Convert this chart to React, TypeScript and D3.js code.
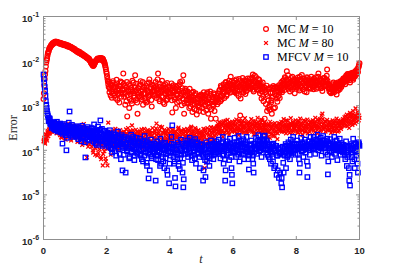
import React from 'react';
import * as d3 from 'd3';

const mc10Log = [
  -2.85, -2.55, -2.30, -2.12, -1.98, -1.88, -1.80, -1.74, -1.70, -1.67, -1.64, -1.62, -1.61, -1.59, -1.58, -1.58, -1.57, -1.58, -1.58, -1.59,
  -1.60, -1.59, -1.61, -1.61, -1.62, -1.62, -1.63, -1.64, -1.63, -1.65, -1.66, -1.66, -1.67, -1.68, -1.68, -1.70, -1.70, -1.71, -1.73, -1.74,
  -1.75, -1.77, -1.77, -1.79, -1.80, -1.80, -1.82, -1.83, -1.84, -1.85, -1.86, -1.88, -1.88, -1.90, -1.91, -1.93, -1.94, -1.95, -1.97, -1.99,
  -2.03, -2.06, -2.09, -2.11, -2.08, -2.04, -2.00, -1.98, -1.96, -1.95, -1.97, -1.94, -1.96, -1.93, -1.98, -1.95, -1.99, -2.03, -2.10, -2.18,
  -2.28, -2.40, -2.52, -2.47, -2.62, -2.77, -2.55, -2.68, -2.45, -2.72, -2.60, -2.83, -2.58, -2.50, -2.74, -2.66, -2.93, -2.57, -2.70, -2.48,
  -2.62, -2.28, -2.80, -2.55, -2.71, -2.90, -3.24, -2.66, -2.52, -2.85, -2.74, -2.60, -2.95, -2.68, -2.48, -2.78, -2.32, -2.87, -2.64, -3.18,
  -2.70, -2.56, -2.82, -2.45, -2.76, -2.63, -2.98, -2.58, -2.72, -2.88, -2.93, -2.50, -2.67, -2.80, -2.41, -2.74, -2.62, -3.02, -2.69, -2.55,
  -2.78, -2.60, -2.47, -2.83, -2.66, -2.28, -2.72, -2.90, -2.57, -2.69, -2.44, -2.81, -2.63, -2.96, -2.52, -2.75, -2.68, -2.85, -2.59, -2.73,
  -2.64, -2.79, -2.50, -3.15, -2.70, -2.58, -2.86, -2.62, -2.75, -2.93, -2.55, -2.68, -2.82, -2.47, -2.73, -2.99, -2.61, -2.32, -3.18, -2.77,
  -2.66, -2.88, -2.74, -2.95, -2.81, -2.62, -3.02, -2.86, -2.71, -2.97, -2.83, -3.08, -2.76, -2.92, -3.20, -2.85, -2.99, -3.12, -2.80, -2.94,
  -2.77, -3.05, -2.90, -2.70, -2.98, -2.84, -3.10, -2.73, -2.95, -2.86, -3.03, -2.68, -3.29, -2.91, -2.80, -3.00, -2.75, -2.93, -3.29, -2.82,
  -2.97, -2.72, -2.85, -2.64, -2.90, -2.58, -2.78, -2.69, -2.52, -2.83, -2.61, -2.47, -2.75, -2.56, -2.66, -2.44, -2.71, -2.35, -2.60, -2.53,
  -2.62, -2.48, -2.70, -2.55, -2.41, -2.66, -2.52, -2.78, -2.45, -3.22, -2.58, -2.64, -2.38, -2.71, -2.50, -2.60, -2.44, -2.67, -2.54, -2.47,
  -2.57, -2.39, -2.62, -2.46, -2.53, -2.30, -2.68, -2.44, -2.58, -2.36, -2.63, -2.49, -2.55, -2.42, -2.72, -2.50, -2.84, -2.62, -2.78, -2.58,
  -3.29, -2.70, -2.74, -3.12, -2.62, -2.88, -3.00, -2.59, -2.93, -3.18, -2.71, -2.56, -2.62, -3.04, -2.77, -2.58, -2.91, -2.66, -2.54, -2.83,
  -2.60, -2.48, -2.70, -2.52, -2.43, -2.65, -2.38, -2.56, -2.23, -2.50, -2.62, -2.41, -2.68, -2.47, -2.55, -2.35, -2.59, -2.45, -2.72, -2.51,
  -2.44, -2.60, -2.37, -2.53, -2.66, -2.42, -2.57, -2.31, -2.49, -2.63, -2.40, -2.55, -2.46, -2.70, -2.38, -2.52, -2.44, -2.61, -2.48, -2.35,
  -2.56, -2.42, -2.63, -2.47, -2.52, -2.36, -2.58, -2.45, -2.28, -2.54, -2.40, -2.61, -2.49, -2.67, -2.44, -2.57, -2.38, -2.53, -2.47, -2.19,
  -2.50, -2.62, -2.68, -2.55, -2.72, -2.58, -2.64, -2.48, -2.70, -2.60, -2.53, -2.75, -2.57, -2.66, -2.51, -2.63, -2.45, -2.58, -2.49, -2.42,
  -2.46, -2.38, -2.52, -2.33, -2.44, -2.29, -2.40, -2.35, -2.48, -2.31, -2.37, -2.26, -2.42, -2.30, -2.34, -2.22, -2.28, -2.18, -2.24, -2.12,
  -2.05,
];
// same series, read at t = 0.0125, 0.0375, ..., 9.9875
const mc10LogMid = [
  -2.72, -2.40, -2.22, -2.03, -1.94, -1.83, -1.78, -1.71, -1.69, -1.65, -1.64, -1.60, -1.61, -1.58, -1.58, -1.56, -1.58, -1.57, -1.59, -1.59,
  -1.61, -1.60, -1.60, -1.63, -1.61, -1.64, -1.62, -1.65, -1.64, -1.64, -1.67, -1.65, -1.68, -1.67, -1.69, -1.69, -1.72, -1.71, -1.74, -1.73,
  -1.76, -1.76, -1.79, -1.78, -1.81, -1.79, -1.83, -1.82, -1.85, -1.84, -1.87, -1.87, -1.89, -1.89, -1.92, -1.92, -1.95, -1.94, -1.98, -2.01,
  -2.05, -2.07, -2.10, -2.10, -2.06, -2.02, -1.99, -1.97, -1.94, -1.96, -1.95, -1.93, -1.95, -1.96, -1.94, -1.97, -2.01, -2.06, -2.14, -2.24,
  -2.34, -2.46, -2.58, -2.70, -2.51, -2.64, -2.82, -2.49, -2.59, -2.77, -2.53, -2.69, -2.42, -2.87, -2.61, -2.55, -2.73, -2.46, -2.80, -2.65,
  -2.74, -2.51, -2.63, -2.98, -2.58, -2.47, -2.77, -2.69, -3.05, -2.56, -2.64, -2.89, -2.44, -2.72, -2.82, -2.59, -2.67, -2.51, -2.93, -2.76,
  -2.61, -2.79, -2.52, -2.68, -2.86, -2.47, -2.73, -2.60, -2.84, -2.65, -2.56, -2.91, -2.70, -2.48, -2.77, -2.58, -2.87, -2.53, -2.75, -2.64,
  -2.67, -2.54, -2.76, -2.62, -2.41, -2.70, -2.85, -2.51, -2.64, -2.79, -2.58, -2.93, -2.55, -2.72, -2.60, -2.88, -2.49, -2.71, -2.80, -2.57,
  -2.72, -2.60, -2.88, -2.66, -2.54, -2.81, -2.69, -3.05, -2.58, -2.76, -2.63, -2.90, -2.52, -2.79, -2.67, -2.45, -2.84, -2.70, -2.95, -2.62,
  -2.79, -2.93, -2.68, -2.86, -3.05, -2.74, -2.91, -2.80, -3.14, -2.69, -2.88, -2.96, -2.72, -3.10, -2.84, -2.93, -2.78, -3.04, -2.87, -2.75,
  -2.92, -2.81, -3.14, -2.87, -2.76, -3.01, -2.89, -2.70, -3.18, -2.83, -2.95, -2.74, -3.08, -2.86, -2.97, -2.72, -3.12, -2.85, -2.90, -2.78,
  -2.83, -2.92, -2.67, -2.79, -2.55, -2.86, -2.63, -2.74, -2.60, -2.70, -2.48, -2.78, -2.58, -2.67, -2.50, -2.62, -2.55, -2.69, -2.45, -2.58,
  -2.55, -2.68, -2.44, -2.61, -2.73, -2.49, -2.58, -2.40, -2.65, -2.84, -2.52, -2.46, -2.69, -2.56, -2.43, -2.74, -2.51, -2.59, -2.39, -2.62,
  -2.48, -2.60, -2.41, -2.55, -2.37, -2.64, -2.50, -2.33, -2.59, -2.47, -2.54, -2.40, -2.66, -2.52, -2.63, -2.56, -2.68, -2.48, -2.90, -2.60,
  -2.65, -2.96, -2.55, -2.78, -3.05, -2.62, -3.09, -2.72, -2.88, -2.60, -2.80, -3.06, -2.74, -2.58, -2.69, -2.84, -2.61, -2.78, -2.70, -2.63,
  -2.55, -2.66, -2.45, -2.61, -2.50, -2.36, -2.58, -2.42, -2.53, -2.32, -2.57, -2.49, -2.60, -2.38, -2.64, -2.46, -2.52, -2.41, -2.58, -2.47,
  -2.54, -2.41, -2.50, -2.62, -2.35, -2.56, -2.45, -2.60, -2.39, -2.51, -2.68, -2.43, -2.57, -2.36, -2.49, -2.59, -2.40, -2.53, -2.62, -2.46,
  -2.50, -2.58, -2.39, -2.55, -2.44, -2.62, -2.48, -2.35, -2.52, -2.43, -2.57, -2.45, -2.60, -2.50, -2.38, -2.54, -2.46, -2.41, -2.33, -2.44,
  -2.58, -2.55, -2.61, -2.70, -2.63, -2.52, -2.69, -2.57, -2.62, -2.51, -2.66, -2.59, -2.48, -2.61, -2.55, -2.47, -2.56, -2.44, -2.52, -2.39,
  -2.42, -2.47, -2.36, -2.41, -2.30, -2.38, -2.32, -2.43, -2.28, -2.36, -2.33, -2.39, -2.27, -2.35, -2.24, -2.31, -2.21, -2.26, -2.15, -2.09,
];

const mc80Log = [
  -3.80, -3.72, -3.85, -3.66, -3.74, -3.60, -3.68, -3.55, -3.62, -3.50, -3.58, -3.46, -3.40, -3.52, -3.44, -3.56, -3.48, -3.38, -3.54, -3.60,
  -3.50, -3.66, -3.45, -3.72, -3.58, -3.42, -3.64, -3.53, -3.76, -3.48, -3.61, -3.40, -3.69, -3.55, -3.47, -3.78, -3.57, -3.44, -3.63, -3.52,
  -3.70, -3.56, -3.45, -3.81, -3.60, -3.52, -3.74, -3.63, -3.49, -3.88, -3.58, -3.41, -3.67, -3.55, -3.79, -4.16, -3.62, -3.50, -3.86, -3.71,
  -3.64, -3.92, -3.75, -4.05, -3.58, -3.83, -3.96, -3.70, -4.12, -3.85, -3.62, -3.98, -3.77, -4.20, -3.88, -4.34, -3.72, -4.02, -3.90, -4.25,
  -3.80, -4.34, -3.38, -3.95, -3.68, -4.10, -3.75, -3.58, -3.88, -3.66, -3.93, -3.52, -3.79, -3.71, -3.98, -3.62, -3.85, -3.55, -3.74, -3.90,
  -3.66, -3.82, -3.58, -3.77, -3.95, -3.62, -3.73, -3.50, -3.86, -3.69, -3.57, -3.80, -3.44, -3.72, -3.91, -3.63, -3.78, -3.54, -3.84, -3.67,
  -3.75, -3.60, -3.88, -3.66, -3.53, -3.81, -3.70, -3.94, -3.59, -3.76, -3.64, -3.85, -3.55, -3.72, -3.90, -3.61, -3.79, -3.68, -3.50, -3.83,
  -3.71, -3.57, -3.86, -3.40, -3.74, -3.63, -3.92, -3.55, -3.80, -3.67, -3.48, -3.77, -3.62, -3.89, -3.58, -3.73, -3.66, -3.84, -3.52, -3.70,
  -3.78, -3.60, -3.69, -3.87, -3.55, -3.74, -3.63, -3.95, -3.58, -3.71, -3.82, -3.49, -3.66, -3.79, -3.57, -3.90, -3.64, -3.75, -3.53, -3.70,
  -3.59, -3.77, -3.52, -3.68, -3.85, -3.56, -3.72, -3.47, -3.64, -3.80, -3.58, -3.69, -3.50, -3.76, -3.61, -3.88, -3.55, -3.71, -3.63, -3.82,
  -3.70, -3.58, -3.84, -3.66, -4.40, -3.53, -4.28, -3.75, -3.61, -3.92, -3.57, -3.69, -3.48, -3.80, -3.62, -3.73, -3.51, -3.67, -3.86, -3.55,
  -3.52, -3.41, -3.63, -3.46, -3.38, -3.57, -3.44, -3.70, -3.35, -3.50, -3.60, -3.42, -3.55, -3.32, -3.48, -3.65, -3.40, -3.53, -3.45, -3.36,
  -3.50, -3.38, -3.58, -3.43, -3.31, -3.55, -3.47, -3.66, -3.36, -3.52, -3.41, -3.60, -3.34, -3.49, -3.44, -3.28, -3.56, -3.40, -3.62, -3.46,
  -3.37, -3.53, -3.45, -3.30, -3.58, -3.42, -3.65, -3.48, -3.35, -3.55, -3.40, -3.27, -3.51, -3.44, -3.60, -3.38, -3.50, -3.33, -3.57, -3.43,
  -3.48, -3.62, -3.40, -3.55, -3.70, -3.46, -3.58, -3.36, -3.64, -3.50, -3.43, -3.68, -3.52, -3.39, -3.60, -3.47, -3.75, -3.54, -3.42, -3.57,
  -3.49, -3.36, -3.58, -3.44, -3.30, -3.53, -3.41, -3.62, -3.47, -3.34, -3.56, -3.43, -3.50, -3.28, -3.45, -3.60, -3.38, -3.52, -3.46, -3.33,
  -3.55, -3.42, -3.61, -3.37, -3.48, -3.29, -3.53, -3.44, -3.66, -3.40, -3.51, -3.35, -3.57, -3.46, -3.31, -3.49, -3.43, -3.59, -3.38, -3.52,
  -3.45, -3.33, -3.56, -3.40, -3.27, -3.50, -3.43, -3.62, -3.36, -3.47, -3.30, -3.54, -3.22, -3.18, -3.41, -3.49, -3.35, -3.58, -3.44, -3.32,
  -3.48, -3.37, -3.55, -3.42, -3.61, -3.46, -3.33, -3.52, -3.40, -3.58, -3.44, -3.29, -3.50, -3.39, -3.56, -3.45, -3.34, -3.48, -3.41, -3.30,
  -3.38, -3.26, -3.45, -3.31, -3.20, -3.40, -3.28, -3.50, -3.16, -3.35, -3.24, -3.43, -3.12, -3.30, -3.22, -3.06, -3.36, -3.25, -3.18, -3.33,
  -3.27,
];
const mc80LogMid = [
  -3.76, -3.82, -3.70, -3.64, -3.78, -3.57, -3.63, -3.52, -3.59, -3.47, -3.55, -3.43, -3.50, -3.41, -3.58, -3.45, -3.62, -3.49, -3.57, -3.44,
  -3.62, -3.54, -3.70, -3.49, -3.66, -3.57, -3.46, -3.73, -3.51, -3.60, -3.68, -3.43, -3.59, -3.50, -3.74, -3.62, -3.48, -3.56, -3.71, -3.60,
  -3.58, -3.66, -3.51, -3.72, -3.55, -3.64, -3.80, -3.57, -3.69, -3.47, -3.75, -3.62, -3.53, -3.84, -3.66, -3.58, -3.92, -3.70, -3.61, -3.78,
  -3.82, -3.71, -4.00, -3.86, -3.68, -4.10, -3.79, -3.92, -3.74, -4.06, -3.83, -3.70, -4.15, -3.90, -3.81, -4.08, -3.95, -3.76, -4.18, -3.86,
  -3.72, -3.96, -3.64, -3.84, -3.59, -3.78, -3.92, -3.68, -3.81, -3.55, -3.76, -3.88, -3.63, -3.85, -3.70, -3.57, -3.93, -3.69, -3.82, -3.61,
  -3.75, -3.60, -3.88, -3.68, -3.53, -3.81, -3.65, -3.92, -3.58, -3.74, -3.85, -3.61, -3.70, -3.55, -3.79, -3.87, -3.64, -3.73, -3.59, -3.80,
  -3.63, -3.79, -3.57, -3.72, -3.85, -3.61, -3.77, -3.52, -3.83, -3.66, -3.74, -3.58, -3.90, -3.65, -3.56, -3.81, -3.69, -3.60, -3.87, -3.73,
  -3.62, -3.78, -3.51, -3.66, -3.82, -3.58, -3.71, -3.47, -3.68, -3.86, -3.60, -3.73, -3.55, -3.79, -3.64, -3.90, -3.57, -3.75, -3.62, -3.81,
  -3.66, -3.73, -3.54, -3.80, -3.62, -3.91, -3.58, -3.71, -3.65, -3.84, -3.52, -3.76, -3.60, -3.69, -3.83, -3.56, -3.74, -3.62, -3.88, -3.58,
  -3.70, -3.62, -3.81, -3.55, -3.74, -3.63, -3.50, -3.79, -3.58, -3.70, -3.65, -3.86, -3.53, -3.68, -3.75, -3.57, -3.80, -3.60, -3.74, -3.66,
  -3.62, -3.77, -3.52, -3.71, -3.59, -3.85, -3.64, -3.50, -3.78, -3.66, -3.55, -3.82, -3.60, -3.70, -3.57, -3.49, -3.76, -3.58, -3.64, -3.47,
  -3.45, -3.58, -3.37, -3.52, -3.61, -3.43, -3.55, -3.39, -3.62, -3.46, -3.34, -3.57, -3.48, -3.42, -3.60, -3.37, -3.51, -3.44, -3.58, -3.41,
  -3.44, -3.56, -3.35, -3.49, -3.61, -3.40, -3.52, -3.33, -3.57, -3.45, -3.38, -3.54, -3.47, -3.60, -3.36, -3.50, -3.42, -3.58, -3.39, -3.53,
  -3.48, -3.39, -3.56, -3.43, -3.51, -3.35, -3.59, -3.45, -3.40, -3.62, -3.47, -3.36, -3.55, -3.42, -3.50, -3.31, -3.57, -3.44, -3.49, -3.38,
  -3.55, -3.45, -3.66, -3.49, -3.59, -3.42, -3.72, -3.51, -3.45, -3.63, -3.56, -3.41, -3.67, -3.48, -3.57, -3.44, -3.62, -3.50, -3.39, -3.53,
  -3.41, -3.54, -3.47, -3.37, -3.58, -3.45, -3.51, -3.33, -3.55, -3.42, -3.48, -3.61, -3.39, -3.54, -3.44, -3.36, -3.57, -3.43, -3.50, -3.40,
  -3.46, -3.58, -3.34, -3.52, -3.43, -3.60, -3.39, -3.55, -3.47, -3.33, -3.58, -3.44, -3.50, -3.38, -3.62, -3.41, -3.54, -3.46, -3.35, -3.49,
  -3.38, -3.51, -3.44, -3.59, -3.35, -3.46, -3.55, -3.31, -3.49, -3.42, -3.57, -3.38, -3.47, -3.30, -3.53, -3.40, -3.50, -3.36, -3.46, -3.55,
  -3.42, -3.53, -3.36, -3.49, -3.44, -3.57, -3.38, -3.47, -3.55, -3.35, -3.50, -3.42, -3.58, -3.33, -3.46, -3.39, -3.52, -3.37, -3.44, -3.35,
  -3.32, -3.41, -3.24, -3.37, -3.46, -3.29, -3.35, -3.21, -3.42, -3.28, -3.38, -3.19, -3.34, -3.26, -3.40, -3.23, -3.30, -3.14, -3.28, -3.22,
];

const mfcvLog = [
  -2.30, -2.48, -2.66, -2.90, -3.05, -3.18, -3.26, -3.33, -3.30, -3.42, -3.38, -3.47, -3.44, -3.52, -3.40, -3.55, -3.48, -3.36, -3.58, -3.46,
  -3.52, -3.40, -3.60, -3.48, -3.85, -3.44, -3.57, -3.50, -3.66, -4.00, -3.47, -3.55, -3.38, -3.13, -3.62, -3.51, -3.43, -3.70, -3.49, -3.58,
  -3.54, -3.68, -3.46, -3.62, -3.75, -3.50, -3.66, -3.58, -3.80, -3.45, -3.63, -3.72, -3.52, -4.16, -3.60, -3.70, -3.48, -3.65, -3.78, -3.56,
  -3.62, -3.50, -3.74, -3.58, -3.42, -3.69, -3.85, -3.55, -3.66, -3.47, -3.77, -3.60, -3.33, -3.71, -3.52, -3.90, -3.64, -3.56, -3.80, -3.68,
  -3.72, -3.60, -3.88, -3.75, -3.55, -3.95, -3.68, -4.05, -3.78, -3.62, -3.90, -3.70, -4.12, -3.82, -3.58, -3.98, -3.74, -3.86, -4.20, -3.66,
  -4.45, -3.80, -3.95, -3.70, -4.50, -3.88, -4.02, -3.75, -3.92, -4.15, -3.82, -3.65, -4.05, -3.90, -3.78, -4.22, -3.85, -3.98, -3.72, -4.08,
  -3.86, -4.00, -3.74, -4.12, -3.90, -3.80, -4.25, -3.95, -3.68, -4.05, -3.88, -4.35, -3.82, -4.63, -3.98, -4.10, -3.76, -4.18, -3.92, -4.02,
  -3.85, -3.98, -4.68, -4.10, -3.80, -4.22, -3.92, -4.05, -3.74, -4.30, -3.88, -4.15, -3.96, -4.40, -3.83, -4.08, -3.90, -4.55, -4.02, -4.74,
  -3.95, -4.12, -3.70, -3.44, -4.05, -3.88, -4.25, -4.81, -3.98, -4.10, -3.82, -4.35, -3.92, -4.18, -3.76, -4.02, -4.50, -4.83, -3.90, -4.08,
  -3.85, -4.00, -3.78, -4.15, -3.92, -3.72, -4.05, -3.88, -4.22, -3.80, -3.95, -4.10, -3.75, -4.30, -3.90, -3.82, -4.08, -3.96, -4.40, -3.86,
  -4.02, -3.88, -4.68, -4.15, -3.95, -4.60, -3.82, -4.25, -4.05, -3.90, -4.35, -3.98, -3.78, -4.12, -3.92, -4.20, -3.85, -4.08, -3.96, -3.80,
  -3.90, -4.05, -3.76, -3.98, -4.18, -3.84, -4.02, -3.70, -4.30, -3.92, -4.68, -3.86, -4.10, -3.80, -3.95, -4.22, -3.74, -4.00, -4.40, -4.74,
  -3.88, -4.05, -3.72, -3.96, -4.15, -3.82, -4.00, -3.68, -4.25, -3.90, -3.78, -4.08, -3.94, -3.75, -4.20, -3.86, -4.02, -3.70, -3.98, -4.12,
  -4.43, -3.90, -4.05, -3.78, -3.95, -4.12, -4.50, -3.85, -3.98, -3.72, -4.08, -3.88, -3.66, -4.02, -3.80, -3.94, -4.15, -3.76, -3.90, -3.68,
  -3.67, -3.90, -4.05, -3.82, -3.98, -4.15, -3.88, -4.02, -4.30, -3.92, -4.08, -3.85, -4.40, -4.00, -3.90, -4.55, -4.12, -3.95, -4.62, -4.05,
  -3.95, -4.74, -4.83, -4.10, -4.50, -3.92, -4.05, -4.40, -3.90, -4.12, -3.82, -3.98, -4.20, -3.76, -4.05, -3.88, -3.70, -4.00, -3.85, -4.10,
  -3.92, -3.78, -4.08, -3.86, -4.50, -3.95, -3.72, -4.02, -3.84, -4.15, -3.90, -3.76, -4.05, -3.88, -4.60, -3.96, -3.80, -4.10, -3.70, -3.92,
  -3.82, -3.98, -3.70, -3.90, -4.08, -3.76, -3.88, -3.65, -4.00, -3.80, -3.94, -3.72, -4.12, -3.85, -3.68, -3.96, -3.78, -4.05, -3.86, -3.74,
  -4.54, -3.88, -4.02, -3.75, -3.95, -4.15, -3.82, -4.00, -3.70, -4.08, -3.90, -3.78, -4.22, -3.86, -3.96, -3.74, -4.10, -3.84, -3.92, -4.05,
  -3.88, -4.02, -4.20, -3.80, -4.35, -3.95, -4.10, -4.68, -4.79, -3.90, -4.05, -4.25, -3.74, -4.00, -4.40, -3.85, -4.12, -3.92, -4.50, -3.82,
  -3.90,
];
const mfcvLogMid = [
  -2.40, -2.58, -2.78, -2.98, -3.12, -3.22, -3.35, -3.28, -3.40, -3.36, -3.50, -3.42, -3.48, -3.38, -3.53, -3.45, -3.41, -3.56, -3.50, -3.43,
  -3.47, -3.58, -3.44, -3.53, -3.63, -3.49, -3.41, -3.60, -3.54, -3.72, -3.45, -3.58, -3.50, -3.46, -3.67, -3.55, -3.60, -3.48, -3.64, -3.52,
  -3.60, -3.52, -3.70, -3.57, -3.48, -3.66, -3.55, -3.74, -3.61, -3.50, -3.69, -3.58, -3.82, -3.63, -3.55, -3.76, -3.62, -3.52, -3.71, -3.64,
  -3.70, -3.58, -3.66, -3.81, -3.55, -3.73, -3.62, -3.88, -3.59, -3.74, -3.65, -3.54, -3.78, -3.63, -3.86, -3.69, -3.57, -3.75, -3.66, -3.84,
  -3.80, -3.68, -3.92, -3.63, -3.85, -3.74, -3.98, -3.70, -3.86, -3.76, -4.02, -3.65, -3.88, -3.79, -3.94, -3.72, -4.08, -3.81, -3.70, -3.92,
  -3.86, -4.10, -3.76, -3.92, -3.84, -4.00, -3.73, -3.96, -4.18, -3.87, -3.78, -4.03, -3.91, -3.70, -3.98, -4.12, -3.82, -3.94, -4.05, -3.80,
  -3.94, -3.84, -4.08, -3.89, -4.20, -3.85, -3.98, -4.12, -3.80, -4.02, -4.28, -3.92, -4.06, -3.86, -4.45, -3.94, -4.14, -3.88, -4.04, -3.96,
  -4.05, -3.90, -4.20, -3.95, -4.12, -3.87, -4.02, -4.35, -3.93, -4.08, -3.98, -4.25, -3.86, -4.00, -4.18, -3.92, -4.45, -4.06, -3.95, -4.30,
  -4.04, -3.92, -3.85, -3.98, -4.15, -4.30, -4.62, -4.05, -3.92, -4.20, -3.88, -4.08, -4.42, -3.96, -4.10, -3.86, -4.28, -4.65, -4.00, -3.94,
  -3.98, -3.84, -4.08, -3.90, -4.05, -3.86, -3.95, -4.12, -3.84, -4.02, -3.89, -4.18, -3.94, -3.85, -4.06, -3.92, -3.99, -4.15, -3.88, -3.98,
  -3.94, -4.10, -4.45, -3.98, -4.22, -4.08, -3.92, -4.14, -3.88, -4.02, -4.18, -3.90, -4.05, -3.86, -4.00, -4.10, -3.94, -3.88, -4.04, -3.92,
  -3.96, -3.86, -4.08, -3.90, -4.02, -3.95, -3.82, -4.12, -3.98, -4.20, -4.45, -3.94, -4.00, -3.88, -4.06, -3.92, -3.85, -4.15, -4.55, -4.02,
  -3.96, -3.84, -4.02, -3.90, -3.98, -3.88, -4.10, -3.80, -4.04, -3.92, -3.86, -4.00, -3.85, -4.08, -3.94, -3.82, -3.96, -3.88, -4.05, -4.20,
  -4.10, -3.98, -3.86, -4.02, -4.20, -4.30, -4.05, -3.92, -3.86, -3.98, -3.90, -3.78, -3.94, -3.86, -4.00, -3.84, -3.96, -3.88, -3.80, -3.75,
  -3.85, -3.98, -3.78, -4.10, -3.92, -3.86, -4.20, -3.95, -4.05, -3.88, -4.25, -3.96, -4.02, -4.35, -3.90, -4.12, -4.45, -3.98, -4.08, -4.50,
  -4.05, -4.62, -3.92, -4.28, -3.98, -4.12, -3.86, -4.02, -4.15, -3.95, -4.08, -3.90, -4.02, -3.95, -3.84, -4.06, -3.92, -3.86, -3.98, -3.92,
  -3.86, -3.95, -3.98, -4.20, -4.30, -3.88, -3.92, -3.85, -4.00, -3.94, -3.82, -3.98, -3.92, -4.25, -4.35, -3.90, -3.95, -3.86, -3.96, -3.84,
  -3.90, -3.84, -3.95, -3.82, -3.92, -3.86, -3.78, -3.94, -3.86, -3.92, -3.83, -3.96, -3.90, -3.78, -3.88, -3.84, -3.94, -3.90, -3.80, -4.10,
  -4.25, -3.96, -3.90, -3.86, -4.05, -3.94, -3.90, -3.86, -3.95, -3.88, -4.00, -3.92, -3.98, -3.94, -3.88, -4.02, -3.94, -3.96, -3.88, -3.98,
  -3.96, -4.10, -3.90, -4.05, -4.15, -3.92, -4.40, -4.55, -3.98, -3.86, -4.15, -3.95, -3.88, -4.20, -4.02, -3.92, -4.05, -4.30, -3.88, -3.86,
];

const T_MAX = 10;
const xTicks = [0, 2, 4, 6, 8, 10];
const yDecades = [-6, -5, -4, -3, -2, -1];
const legendNames = ['MC', 'MC', 'MFCV'];
const legendM = ['10', '80', '10'];

type Pt = { t: number; v: number };
const toPoints = (logs: number[], mids: number[]): Pt[] => {
  const step = T_MAX / (logs.length - 1);
  const a = logs.map((lv, i) => ({ t: i * step, v: Math.pow(10, lv) }));
  const b = mids.map((lv, i) => ({ t: (i + 0.5) * step, v: Math.pow(10, lv) }));
  return a.concat(b);
};

export default function App() {
  const W = 415;
  const H = 273;
  const L = 43.5, R = 359.5, T = 16.5, B = 239.5;
  const x = d3.scaleLinear().domain([0, T_MAX]).range([L, R]);
  const y = d3.scaleLog().domain([1e-6, 1e-1]).range([B, T]);
  const axisColor = '#8f8f8f';
  const red = '#ff0000';
  const blue = '#0000ff';

  const mc10 = toPoints(mc10Log, mc10LogMid);
  const mc80 = toPoints(mc80Log, mc80LogMid);
  const mfcv = toPoints(mfcvLog, mfcvLogMid);

  const minor: number[] = [];
  for (let d = -6; d < -1; d++) for (let k = 2; k <= 9; k++) minor.push(k * Math.pow(10, d));

  const circ = (cx: number, cy: number, key: any) => (
    <circle key={key} cx={cx} cy={cy} r={2.4} fill="none" stroke={red} strokeWidth={1.2} />
  );
  const cross = (cx: number, cy: number, key: any) => (
    <path key={key} d={`M${cx - 1.9},${cy - 1.9}L${cx + 1.9},${cy + 1.9}M${cx - 1.9},${cy + 1.9}L${cx + 1.9},${cy - 1.9}`} stroke={red} strokeWidth={1.3} fill="none" />
  );
  const sq = (cx: number, cy: number, key: any) => (
    <rect key={key} x={cx - 2.2} y={cy - 2.2} width={4.4} height={4.4} fill="none" stroke={blue} strokeWidth={1.3} />
  );

  const legendY = [29, 43, 57];
  const markers = [circ, cross, sq];

  return (
    <svg width={W} height={H} style={{ position: 'absolute', left: 0, top: 0, background: '#fff' }}>
      <rect x={0} y={0} width={W} height={H} fill="#fff" />
      <g>{mc10.map((p, i) => circ(x(p.t), y(p.v), i))}</g>
      <g>{mc80.map((p, i) => cross(x(p.t), y(p.v), i))}</g>
      <g>{mfcv.map((p, i) => sq(x(p.t), y(p.v), i))}</g>

      <rect x={L} y={T} width={R - L} height={B - T} fill="none" stroke={axisColor} strokeWidth={1} />
      {xTicks.map((t) => (
        <g key={'xt' + t}>
          <line x1={x(t)} x2={x(t)} y1={B} y2={B - 3.5} stroke={axisColor} />
          <line x1={x(t)} x2={x(t)} y1={T} y2={T + 3.5} stroke={axisColor} />
          <text x={x(t)} y={253.5} textAnchor="middle" fontFamily="Liberation Sans, Arial, sans-serif" fontSize={9.5} fontWeight="bold" fill="#262626">
            {t}
          </text>
        </g>
      ))}
      {yDecades.map((d) => {
        const yy = y(Math.pow(10, d));
        return (
          <g key={'yt' + d}>
            <line x1={L} x2={L + 3.5} y1={yy} y2={yy} stroke={axisColor} />
            <line x1={R} x2={R - 3.5} y1={yy} y2={yy} stroke={axisColor} />
            <text x={32.5} y={yy + 5.5} textAnchor="end" fontFamily="Liberation Sans, Arial, sans-serif" fontSize={9.5} fontWeight="bold" fill="#262626">
              10
            </text>
            <text x={32.8} y={yy + 0.5} textAnchor="start" fontFamily="Liberation Sans, Arial, sans-serif" fontSize={7} fontWeight="bold" fill="#262626">
              {String(d)}
            </text>
          </g>
        );
      })}
      {minor.map((v, i) => (
        <g key={'ym' + i}>
          <line x1={L} x2={L + 2} y1={y(v)} y2={y(v)} stroke={axisColor} />
          <line x1={R} x2={R - 2} y1={y(v)} y2={y(v)} stroke={axisColor} />
        </g>
      ))}
      <text x={201} y={263} textAnchor="middle" fontFamily="Liberation Serif, serif" fontStyle="italic" fontSize={12} fill="#262626">
        t
      </text>
      <text transform="translate(17,128) rotate(-90)" textAnchor="middle" fontFamily="Liberation Serif, serif" fontSize={12} fill="#262626">
        Error
      </text>
      {legendNames.map((name, i) => (
        <g key={'lg' + i}>
          {markers[i](266, legendY[i], 'm' + i)}
          <text x={277} y={legendY[i] + 3.8} fontFamily="Liberation Serif, serif" fontSize={12} fill="#000">
            {name + ' '}
            <tspan fontStyle="italic">M</tspan>
            {' = ' + legendM[i]}
          </text>
        </g>
      ))}
    </svg>
  );
}
